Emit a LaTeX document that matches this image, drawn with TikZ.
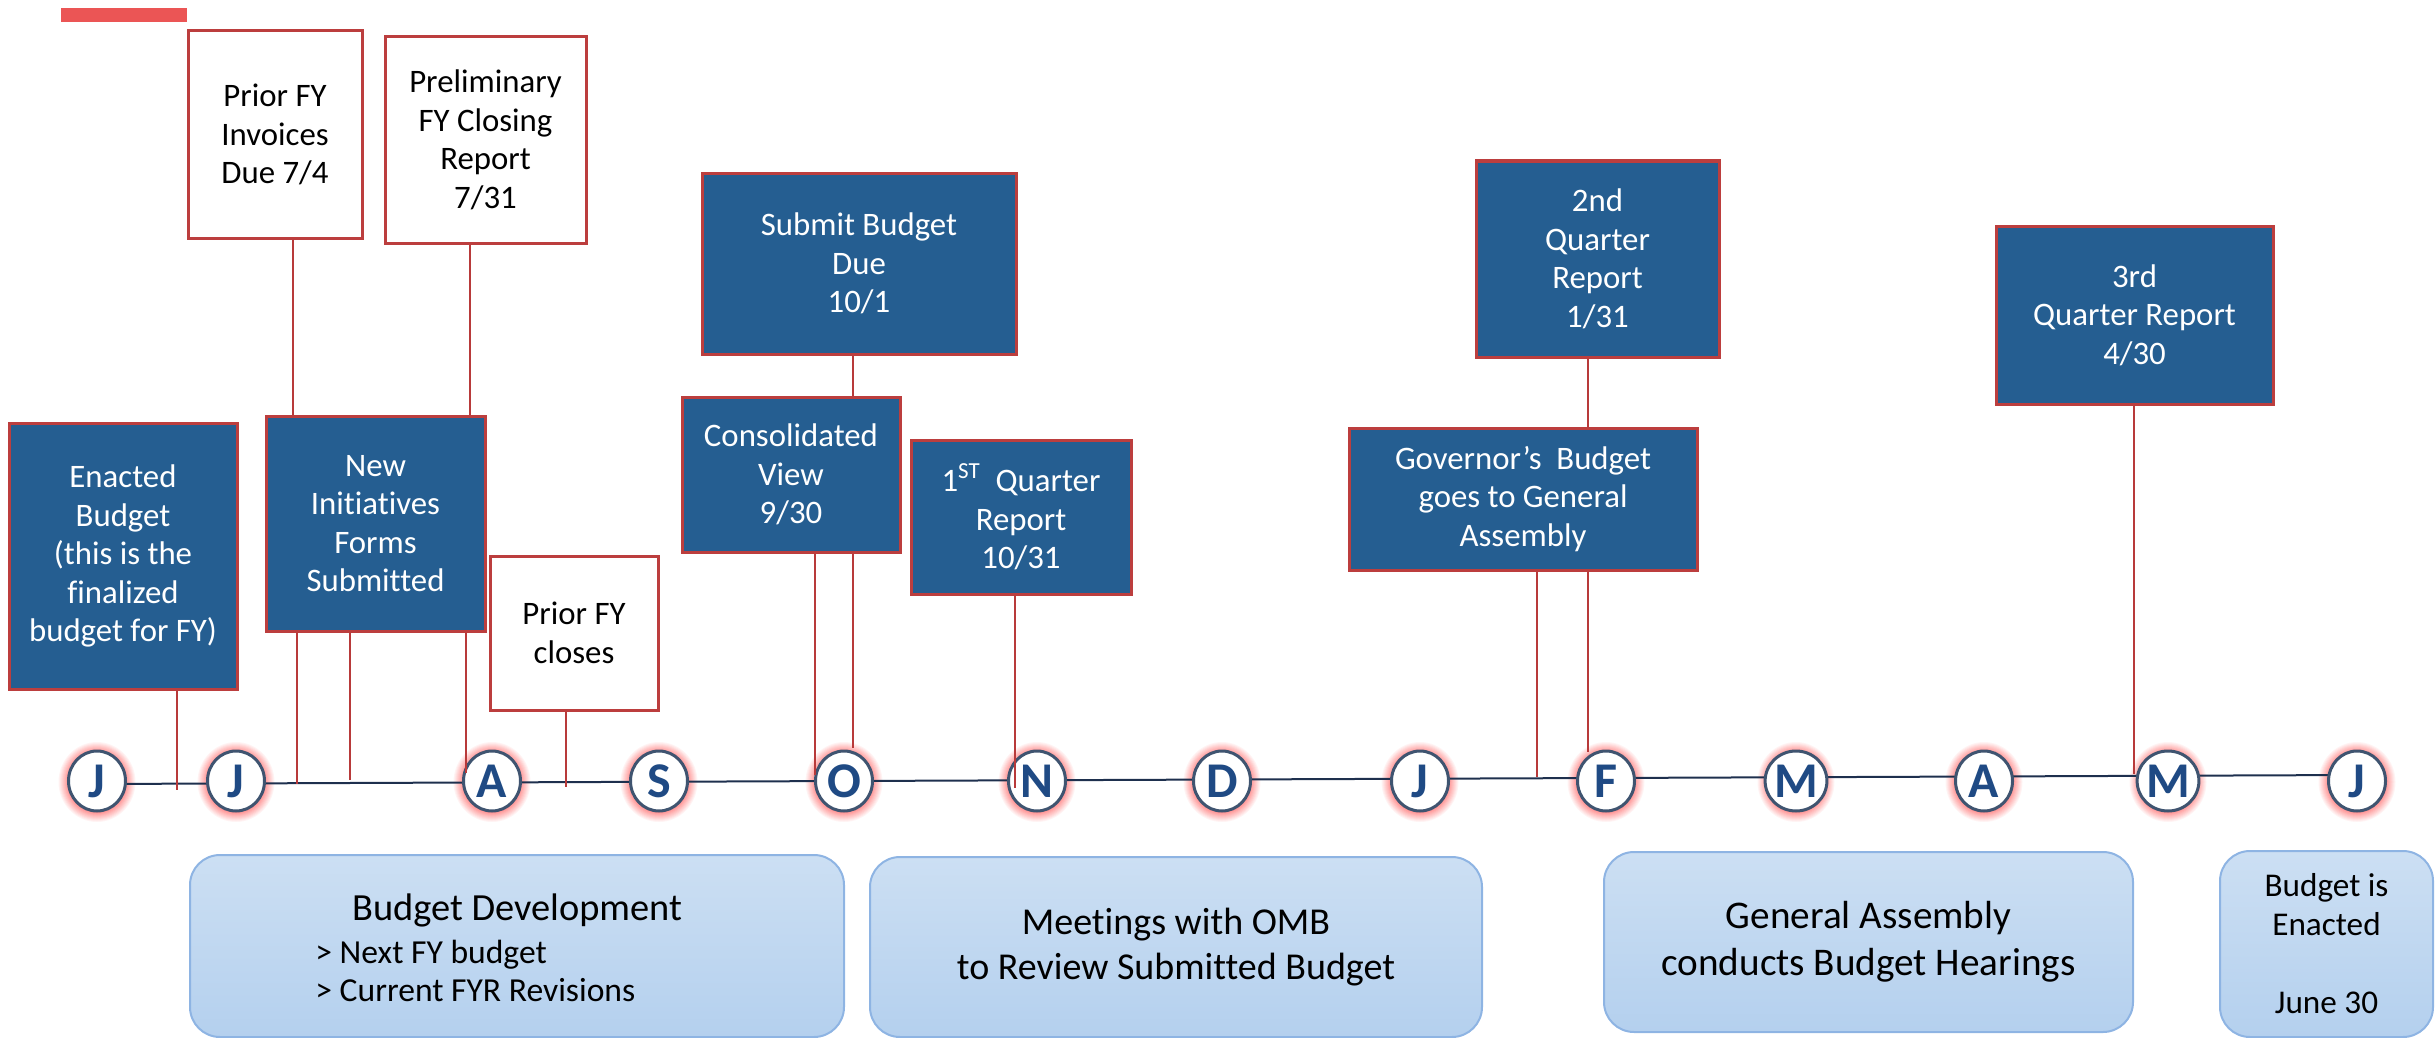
\documentclass[tikz,border=0pt]{standalone}
\usepackage{fontspec}
\setmainfont{Carlito}[Ligatures=NoCommon]
\usetikzlibrary{shapes.geometric}
\definecolor{boxblue}{RGB}{37,94,145}
\definecolor{boxred}{RGB}{188,62,62}
\definecolor{connred}{RGB}{184,58,58}
\definecolor{barred}{RGB}{235,85,85}
\definecolor{ringgray}{RGB}{63,84,112}
\definecolor{letterblue}{RGB}{31,74,132}
\definecolor{lineblue}{RGB}{30,48,78}
\definecolor{softtop}{RGB}{204,223,243}
\definecolor{softbot}{RGB}{180,208,238}
\definecolor{softedge}{RGB}{142,180,227}
\begin{document}
\begin{tikzpicture}[x=0.5pt,y=-0.5pt,
  evt/.style={draw=boxred, line width=1.5pt, inner sep=0pt, align=center,
    font=\fontsize{16.4pt}{19.25pt}\selectfont},
  darkevt/.style={evt, fill=boxblue, text=white},
  lightevt/.style={evt, fill=white, text=black},
  phase/.style={draw=softedge, line width=1pt, rounded corners=15pt,
    top color=softtop, bottom color=softbot, inner sep=0pt, align=center,
    font=\fontsize{19pt}{22.5pt}\selectfont},
  month/.style={ellipse, draw=ringgray, line width=1.5pt, fill=white,
    minimum width=28.5pt, minimum height=30pt, inner sep=0pt,
    text=letterblue, font=\fontsize{25pt}{25pt}\selectfont\bfseries},
  conn/.style={draw=connred, line width=1.25pt},
  tl/.style={draw=lineblue, line width=1pt}]
\useasboundingbox (0,0) rectangle (2436,1038);

% accent bar
\fill[barred] (61,8) rectangle (187,22);

% glow behind each month marker
\foreach \x/\n in {97/m1,236/m2,492/m3,659/m4,844/m5,1037/m6,1222/m7,1420/m8,1606/m9,1796/m10,1984/m11,2168/m12,2357/m13}{
  \foreach \k in {10,...,1}{
    \pgfmathsetmacro\pc{42*(11-\k)/10}
    \pgfmathsetmacro\rx{(28.5+\k)/2}
    \pgfmathsetmacro\ry{(30+\k)/2}
    \fill[red!\pc!white] (\x,782) ellipse [x radius=\rx pt, y radius=\ry pt];
  }
  \coordinate (c\n) at (\x,781);
}

% timeline
\draw[tl] ([yshift=-1.5pt]cm1) -- ([yshift=3pt]cm13);

% month markers
\foreach \x/\l/\n in {97/J/m1,236/J/m2,492/A/m3,659/S/m4,844/O/m5,1037/N/m6,1222/D/m7,1420/J/m8,1606/F/m9,1796/M/m10,1984/A/m11,2168/M/m12,2357/J/m13}{
  \node[month] (\n) at (\x,781) {\l};
}

% event boxes
\node[darkevt, minimum width=114pt, minimum height=133pt] (enacted) at (123,556)
  {Enacted\\Budget\\(this is the\\finalized\\budget for FY)};
\node[darkevt, minimum width=109.5pt, minimum height=107.5pt] (init) at (375.5,523.5)
  {New\\Initiatives\\Forms\\Submitted};
\node[lightevt, minimum width=87pt, minimum height=103.5pt] (inv) at (275,134.5)
  {Prior FY\\Invoices\\Due 7/4};
\node[lightevt, minimum width=100.5pt, minimum height=103pt] (prelim) at (485.5,140)
  {Preliminary\\FY Closing\\Report\\7/31};
\node[lightevt, minimum width=84pt, minimum height=77pt] (closes) at (574,633)
  {Prior FY\\closes};
\node[darkevt, minimum width=157pt, minimum height=90.5pt] (submit) at (859,263.5)
  {Submit Budget\\Due\\10/1};
\node[darkevt, minimum width=109pt, minimum height=77.5pt] (consol) at (791,474.5)
  {Consolidated\\View\\9/30};
\node[darkevt, minimum width=110pt, minimum height=77pt] (q1) at (1021,517)
  {1\textsuperscript{ST}~~Quarter\\Report\\10/31};
\node[darkevt, minimum width=121.5pt, minimum height=98pt] (q2) at (1597.5,259)
  {2nd\\Quarter\\Report\\1/31};
\node[darkevt, minimum width=174pt, minimum height=71pt] (gov) at (1523,499)
  {Governor’s~~Budget\\goes to General\\Assembly};
\node[darkevt, minimum width=138.5pt, minimum height=89pt] (q3) at (2134.5,315)
  {3rd\\Quarter Report\\4/30};

% phase boxes
\node[phase, minimum width=327pt, minimum height=91pt] (bdev) at (517,946) {};
\node[font=\fontsize{19.2pt}{22pt}\selectfont] (bdevT) at (517,910) {Budget Development};
\node[anchor=west, align=left, inner sep=0pt, font=\fontsize{16.8pt}{19pt}\selectfont] (bdevL) at (315,971)
  {> Next FY budget\\> Current FYR Revisions};
\node[phase, minimum width=306pt, minimum height=90pt] (omb) at (1176,947)
  {Meetings with OMB\\to Review Submitted Budget};
\node[phase, minimum width=264.5pt, minimum height=90pt, font=\fontsize{19.6pt}{23.5pt}\selectfont] (ga) at (1868.5,942)
  {General Assembly\\conducts Budget Hearings};
\node[phase, minimum width=106.5pt, minimum height=93pt, font=\fontsize{16.6pt}{19.5pt}\selectfont] (enact) at (2326.5,944)
  {Budget is\\Enacted\\[19.5pt]June 30};

% connector ends on the timeline
\coordinate (e1) at (177,790);
\coordinate (i1) at (297,784);
\coordinate (i2) at (350,780);
\coordinate (i3) at (466,773);
\coordinate (s1) at (566,787);
\coordinate (o1) at (815,775);
\coordinate (o2) at (853,748);
\coordinate (n1) at (1015,788);
\coordinate (f1) at (1537,777);
\coordinate (f2) at (1588,752);
\coordinate (a1) at (2134,774);
\coordinate (xinv) at (293,0);
\coordinate (xpre) at (470,0);
\coordinate (xsub) at (853,0);
\coordinate (xq2) at (1588,0);

% box-to-box links
\draw[conn] (inv.south -| xinv) -- (init.north -| xinv);
\draw[conn] (prelim.south -| xpre) -- (init.north -| xpre);
\draw[conn] (submit.south -| xsub) -- (consol.north -| xsub);
\draw[conn] (q2.south -| xq2) -- (gov.north -| xq2);

% box-to-timeline links
\draw[conn] (enacted.south -| e1) -- (e1);
\draw[conn] (init.south -| i1) -- (i1);
\draw[conn] (init.south -| i2) -- (i2);
\draw[conn] (init.south -| i3) -- (i3);
\draw[conn] (closes.south -| s1) -- (s1);
\draw[conn] (consol.south -| o1) -- (o1);
\draw[conn] (consol.south -| o2) -- (o2);
\draw[conn] (q1.south -| n1) -- (n1);
\draw[conn] (gov.south -| f1) -- (f1);
\draw[conn] (gov.south -| f2) -- (f2);
\draw[conn] (q3.south -| a1) -- (a1);
\end{tikzpicture}
\end{document}
